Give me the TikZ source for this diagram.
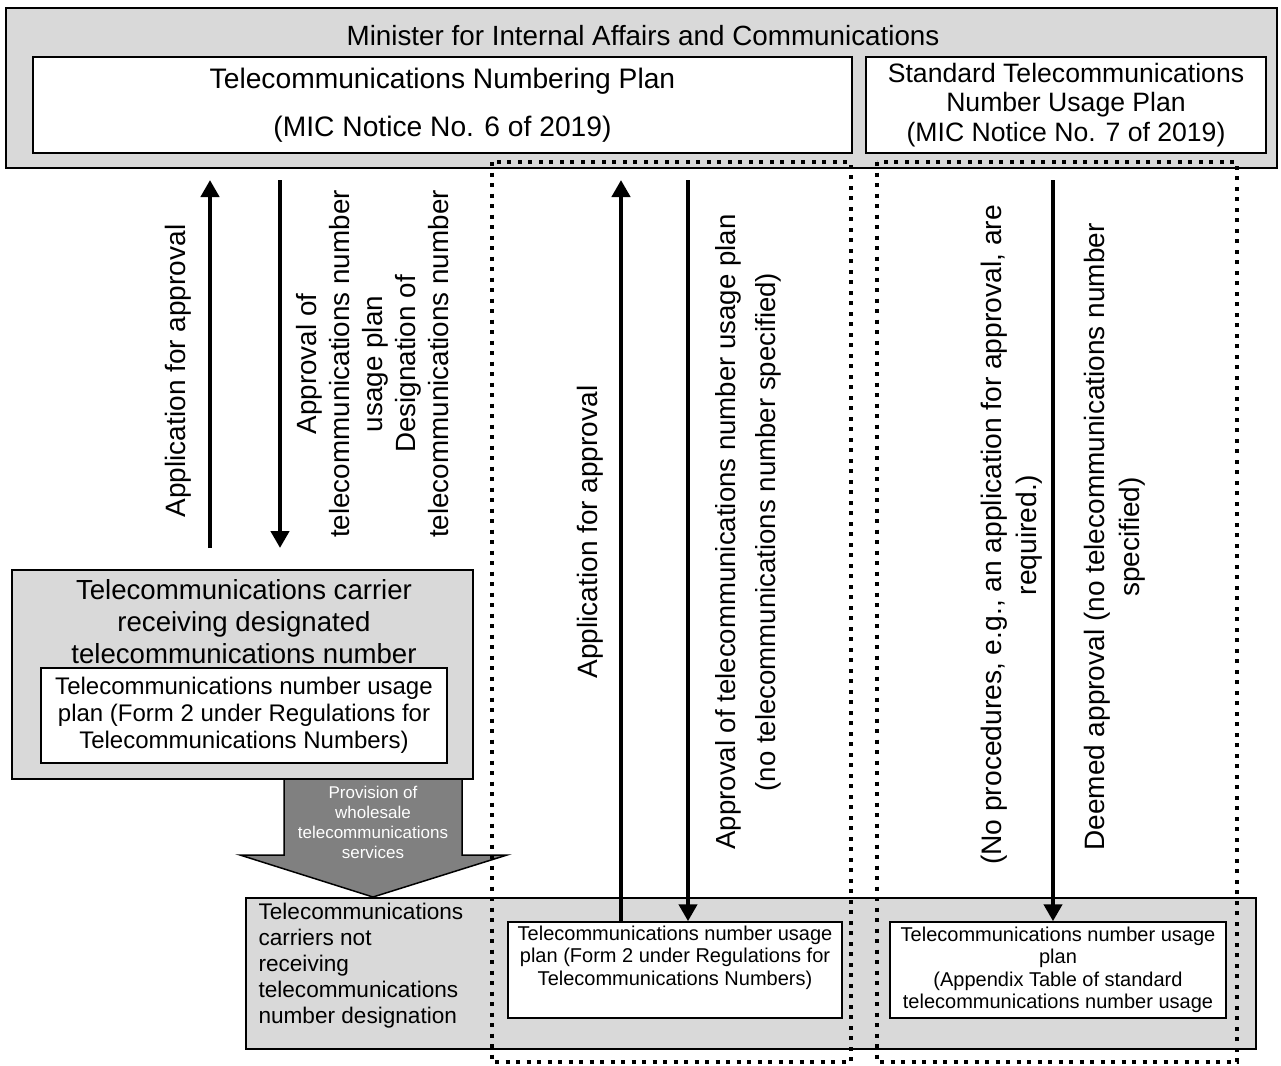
\documentclass[tikz,border=0pt]{standalone}
\usepackage{fontspec}
\setmainfont{Liberation Sans}
\usetikzlibrary{arrows.meta,positioning}
\definecolor{boxGrey}{gray}{0.85}
\definecolor{arrowGrey}{gray}{0.5}
\newcommand{\sizeL}{\fontsize{28}{33}\selectfont}
\tikzset{
  greybox/.style={draw, fill=boxGrey, line width=1.5pt, inner sep=0pt},
  whitebox/.style={draw, fill=white, line width=1.5pt, inner sep=0pt, align=center},
  flowarrow/.style={line width=4.5pt, -{Triangle[length=17pt,width=18pt]}},
  dotframe/.style={line width=4pt, dash pattern=on 4pt off 6.5pt},
  vlabel/.style={rotate=90, align=center, font=\sizeL},
}
\begin{document}
\begin{tikzpicture}[x=1pt,y=-1pt]
\useasboundingbox (0,0) rectangle (1281,1065);
% ministry and the two plans
\node[greybox, minimum width=1271pt, minimum height=160pt] (minister) at (641.5,88) {};
\node[font=\fontsize{27.8}{33}\selectfont] (ministertxt) at (643,36) {Minister for Internal Affairs and Communications};
\node[whitebox, minimum width=819pt, minimum height=96pt, font=\fontsize{28.2}{33}\selectfont] (numplan) at (442.5,105) {Telecommunications Numbering Plan\\[15pt](MIC Notice No. 6 of 2019)};
\node[whitebox, minimum width=400pt, minimum height=96pt, font=\fontsize{26.6}{29.5}\selectfont] (stdplan) at (1066,105) {Standard Telecommunications\\Number Usage Plan\\(MIC Notice No. 7 of 2019)};
% carrier with designated number
\node[greybox, minimum width=461pt, minimum height=209pt] (carrier) at (242.5,674.5) {};
\node[font=\fontsize{27.6}{32}\selectfont, align=center] (carriertxt) at (244,622) {Telecommunications carrier\\receiving designated\\telecommunications number};
\node[whitebox, minimum width=406pt, minimum height=95pt, font=\fontsize{24}{27}\selectfont] (carrierplan) at (244,715.5) {Telecommunications number usage\\plan (Form 2 under Regulations for\\Telecommunications Numbers)};
% wholesale arrow
\draw[line width=1.5pt, fill=arrowGrey] (284,779) -- (284,855) -- (240,855) -- (373,897) -- (507,855) -- (462,855) -- (462,779) -- cycle;
\node[text=white, align=center, font=\fontsize{17}{20}\selectfont] (wholesaletxt) at (373,822) {Provision of\\wholesale\\telecommunications\\services};
% carriers without designation
\node[greybox, minimum width=1010pt, minimum height=151pt] (others) at (751,973.5) {};
\node[align=left, anchor=west, font=\fontsize{22.6}{26}\selectfont] (otherstxt) at (255,966) {Telecommunications\\carriers not\\receiving\\telecommunications\\number designation};
\node[whitebox, minimum width=334pt, minimum height=96pt, font=\fontsize{20}{22.5}\selectfont] (usageplanA) at (675,970) {Telecommunications number usage\\plan (Form 2 under Regulations for\\Telecommunications Numbers)\\\strut};
\node[whitebox, minimum width=336pt, minimum height=96pt, font=\fontsize{20}{22.5}\selectfont] (usageplanB) at (1058,970) {Telecommunications number usage\\plan\\(Appendix Table of standard\\telecommunications number usage};
% dotted frames
\draw[dotframe] (492,162) rectangle (851,1062);
\draw[dotframe] (877,162) rectangle (1237,1062);
% procedure arrows
\coordinate (topline) at (0,180);
\coordinate (appA) at (210,548);
\coordinate (aprA) at (280,548);
\coordinate (appBtop) at (621,180);
\coordinate (aprBtop) at (688,180);
\coordinate (deemtop) at (1053,180);
\draw[flowarrow] (appA) -- (appA |- topline);
\draw[flowarrow] (aprA |- topline) -- (aprA);
\draw[flowarrow] (appBtop |- usageplanA.north) -- (appBtop);
\draw[flowarrow] (aprBtop) -- (aprBtop |- usageplanA.north);
\draw[flowarrow] (deemtop) -- (deemtop |- usageplanB.north);
% arrow labels
\node[vlabel] (appAtxt) at (178,371) {Application for approval};
\node[vlabel, font=\fontsize{27.8}{33}\selectfont] (aprAtxt) at (373,364) {Approval of\\telecommunications number\\usage plan\\Designation of\\telecommunications number};
\node[vlabel] (appBtxt) at (590,532) {Application for approval};
\node[vlabel, font=\fontsize{27.6}{40}\selectfont] (aprBtxt) at (748,532) {Approval of telecommunications number usage plan\\(no telecommunications number specified)};
\node[vlabel, font=\fontsize{28.2}{35}\selectfont] (noproctxt) at (1012,535) {(No procedures, e.g., an application for approval, are\\required.)};
\node[vlabel, font=\fontsize{28}{35}\selectfont] (deemtxt) at (1115,537) {Deemed approval (no telecommunications number\\specified)};
\end{tikzpicture}
\end{document}
